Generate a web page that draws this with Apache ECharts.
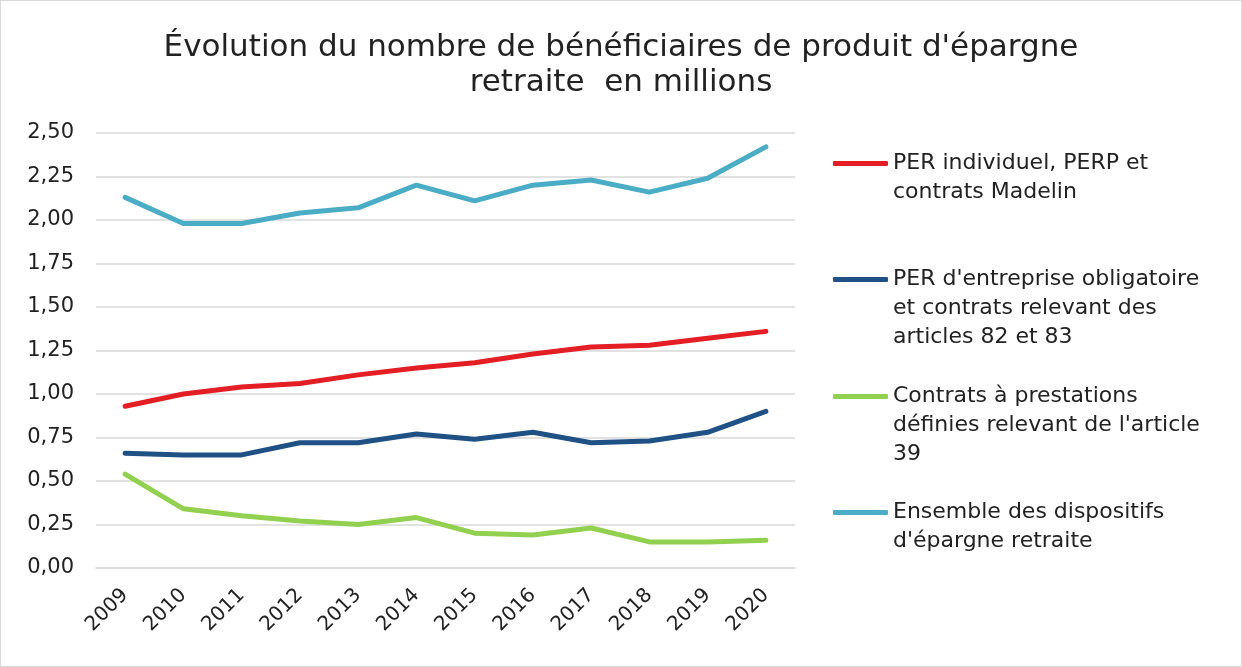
<!DOCTYPE html>
<html>
<head>
<meta charset="utf-8">
<script src="https://cdn.jsdelivr.net/npm/echarts@6/dist/echarts.min.js"></script>
<style>
html, body { margin: 0; padding: 0; background: #fff; }
#chartmain { width: 1240px; height: 665px; border: 1px solid #d9d9d9; }
</style>
</head>
<body>
<div id="chartmain"></div>
<script>
var years = ['2009', '2010', '2011', '2012', '2013', '2014', '2015', '2016', '2017', '2018', '2019', '2020'];
var perIndividuel = [0.93, 1.00, 1.04, 1.06, 1.11, 1.15, 1.18, 1.23, 1.27, 1.28, 1.32, 1.36];
var perEntreprise = [0.66, 0.65, 0.65, 0.72, 0.72, 0.77, 0.74, 0.78, 0.72, 0.73, 0.78, 0.90];
var contratsArt39 = [0.54, 0.34, 0.30, 0.27, 0.25, 0.29, 0.20, 0.19, 0.23, 0.15, 0.15, 0.16];
var ensemble = [2.13, 1.98, 1.98, 2.04, 2.07, 2.20, 2.11, 2.20, 2.23, 2.16, 2.24, 2.42];

var names = [
	'PER individuel, PERP et\ncontrats Madelin',
	"PER d'entreprise obligatoire\net contrats relevant des\narticles 82 et 83",
	"Contrats à prestations\ndéfinies relevant de l'article\n39",
	"Ensemble des dispositifs\nd'épargne retraite"
];
var colors = ['#e31e24', '#1f5185', '#92d050', '#4bacc6'];
var values = [perIndividuel, perEntreprise, contratsArt39, ensemble];
var legendTops = [119, 206, 323, 468];

var font = 'DejaVu Sans';
var LH = 29;

var legends = [];
var series = [];
for (var i = 0; i < names.length; i++) {
	legends.push({
		left: 832,
		top: legendTops[i],
		padding: 0,
		selectedMode: false,
		itemWidth: 55,
		itemHeight: 5,
		itemGap: 4,
		data: [{ name: names[i], icon: 'roundRect' }],
		// lignes vides en tête pour aligner le trait sur la première ligne
		formatter: function(name) {
			var n = name.split('\n').length;
			var pre = '';
			for (var k = 1; k < n; k++) pre += ' \n';
			return pre + name;
		},
		textStyle: {
			fontFamily: font,
			fontSize: 22,
			color: '#222',
			lineHeight: LH
		}
	});
	series.push({
		name: names[i],
		type: 'line',
		data: values[i],
		symbol: 'none',
		lineStyle: { color: colors[i], width: 5, cap: 'round', join: 'round' },
		itemStyle: { color: colors[i] }
	});
}

var option = {
	animation: false,
	title: {
		text: "Évolution du nombre de bénéficiaires de produit d'épargne\nretraite  en millions",
		left: 'center',
		top: 24,
		textStyle: {
			fontFamily: font,
			fontSize: 31,
			fontWeight: 'normal',
			color: '#222',
			lineHeight: 35
		}
	},
	legend: legends,
	grid: { left: 95, right: 446, top: 132, bottom: 98 },
	xAxis: {
		type: 'category',
		data: years,
		boundaryGap: true,
		axisLine: { lineStyle: { color: '#d9d9d9', width: 1.5 } },
		axisTick: { show: false },
		axisLabel: {
			rotate: 45,
			margin: 24,
			fontFamily: font,
			fontSize: 20,
			color: '#222'
		}
	},
	yAxis: {
		type: 'value',
		min: 0,
		max: 2.5,
		interval: 0.25,
		axisLine: { show: false },
		axisTick: { show: false },
		splitLine: { lineStyle: { color: '#d9d9d9', width: 1.5 } },
		axisLabel: {
			margin: 22,
			fontFamily: font,
			fontSize: 21,
			color: '#222',
			formatter: function(v) { return v.toFixed(2).replace('.', ','); }
		}
	},
	series: series
};
// 初始化图表
var myChart = echarts.init(document.getElementById('chartmain'));
myChart.setOption(option);
</script>
</body>
</html>
